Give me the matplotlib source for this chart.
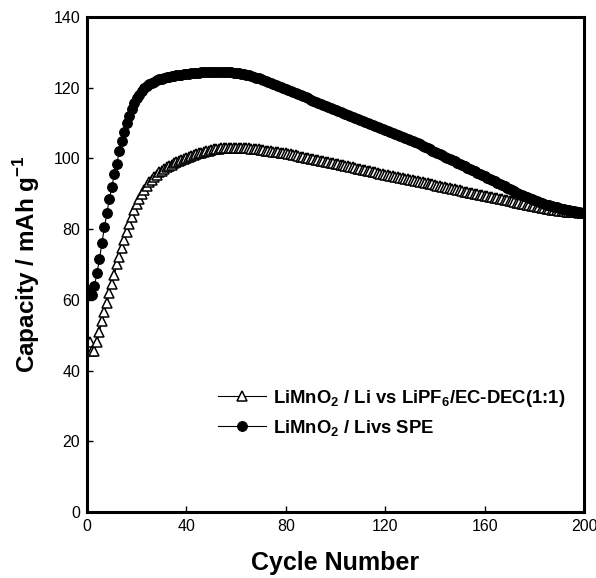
import numpy as np
import matplotlib
matplotlib.use('Agg')
import matplotlib.pyplot as plt

plt.rcParams['font.family'] = ['Liberation Sans', 'DejaVu Sans']
plt.rcParams['mathtext.fontset'] = 'custom'
plt.rcParams['mathtext.rm'] = 'Liberation Sans:bold'
plt.rcParams['mathtext.bf'] = 'Liberation Sans:bold'

# cycle numbers 1..200
cycles = np.arange(1, 201)

# LiMnO2 / Li vs SPE (filled circles)
cap_spe = [
    62.5, 61.5, 64.0, 67.5, 71.5, 76.0, 80.5, 84.5, 88.5, 92.0,
    95.5, 98.5, 102.0, 105.0, 107.5, 110.0, 112.0, 114.0, 115.5, 117.0,
    118.0, 119.0, 119.8, 120.4, 120.9, 121.3, 121.7, 122.0, 122.3, 122.5,
    122.7, 122.9, 123.0, 123.2, 123.3, 123.4, 123.5, 123.6, 123.7, 123.8,
    123.9, 124.0, 124.1, 124.2, 124.2, 124.3, 124.3, 124.4, 124.4, 124.5,
    124.5, 124.5, 124.5, 124.5, 124.4, 124.4, 124.3, 124.3, 124.2, 124.1,
    124.0, 123.9, 123.8, 123.6, 123.4, 123.2, 123.0, 122.8, 122.6, 122.4,
    122.1, 121.8, 121.5, 121.3, 121.0, 120.7, 120.4, 120.1, 119.8, 119.6,
    119.3, 119.0, 118.7, 118.4, 118.1, 117.8, 117.5, 117.2, 116.9, 116.6,
    116.3, 116.0, 115.7, 115.4, 115.1, 114.8, 114.5, 114.2, 113.9, 113.6,
    113.3, 113.0, 112.7, 112.5, 112.2, 111.9, 111.6, 111.4, 111.1, 110.8,
    110.6, 110.3, 110.0, 109.7, 109.5, 109.2, 108.9, 108.6, 108.4, 108.1,
    107.8, 107.5, 107.2, 106.9, 106.6, 106.3, 106.0, 105.7, 105.4, 105.1,
    104.8, 104.5, 104.2, 103.9, 103.6, 103.2, 102.9, 102.6, 102.2, 101.9,
    101.5, 101.2, 100.8, 100.5, 100.1, 99.8, 99.4, 99.1, 98.7, 98.4,
    98.0, 97.7, 97.3, 97.0, 96.6, 96.3, 95.9, 95.6, 95.2, 94.9,
    94.5, 94.2, 93.8, 93.5, 93.1, 92.8, 92.4, 92.1, 91.7, 91.4,
    91.0, 90.7, 90.3, 90.0, 89.7, 89.3, 89.0, 88.7, 88.4, 88.1,
    87.8, 87.6, 87.3, 87.1, 86.9, 86.7, 86.5, 86.3, 86.1, 85.9,
    85.7, 85.6, 85.4, 85.3, 85.1, 85.0, 84.9, 84.7, 84.6, 84.5,
]

# LiMnO2 / Li vs LiPF6/EC-DEC(1:1) (open triangles)
cap_liquid = [
    48.0, 45.5, 45.5, 48.0, 51.0, 54.0, 56.5, 59.0, 62.0, 64.5,
    67.0, 70.0, 72.2, 74.6, 77.0, 79.3, 81.5, 83.5, 85.3, 87.0,
    88.5, 89.8, 91.0, 92.2, 93.2, 94.0, 94.7, 95.4, 96.0, 96.5,
    97.0, 97.4, 97.8, 98.2, 98.6, 98.9, 99.2, 99.5, 99.8, 100.1,
    100.4, 100.7, 100.9, 101.2, 101.4, 101.6, 101.8, 102.0, 102.2, 102.3,
    102.5, 102.6, 102.7, 102.8, 102.9, 102.9, 103.0, 103.0, 103.0, 103.0,
    103.0, 102.9, 102.9, 102.8, 102.8, 102.7, 102.6, 102.5, 102.5, 102.4,
    102.3, 102.2, 102.1, 102.0, 101.9, 101.8, 101.7, 101.6, 101.5, 101.4,
    101.2, 101.1, 101.0, 100.8, 100.7, 100.5, 100.4, 100.2, 100.1, 99.9,
    99.8, 99.6, 99.5, 99.3, 99.2, 99.0, 98.9, 98.7, 98.6, 98.4,
    98.3, 98.1, 98.0, 97.8, 97.7, 97.5, 97.4, 97.2, 97.1, 96.9,
    96.8, 96.6, 96.5, 96.3, 96.2, 96.0, 95.9, 95.7, 95.6, 95.4,
    95.3, 95.1, 95.0, 94.8, 94.7, 94.5, 94.4, 94.2, 94.1, 93.9,
    93.8, 93.6, 93.5, 93.3, 93.2, 93.0, 92.9, 92.7, 92.6, 92.4,
    92.3, 92.1, 92.0, 91.8, 91.7, 91.5, 91.4, 91.2, 91.1, 90.9,
    90.8, 90.6, 90.5, 90.3, 90.2, 90.0, 89.9, 89.7, 89.6, 89.4,
    89.3, 89.1, 89.0, 88.8, 88.7, 88.5, 88.4, 88.2, 88.1, 87.9,
    87.8, 87.6, 87.5, 87.3, 87.2, 87.0, 86.9, 86.7, 86.6, 86.4,
    86.3, 86.2, 86.0, 85.9, 85.8, 85.6, 85.5, 85.4, 85.3, 85.2,
    85.1, 85.0, 84.9, 84.9, 84.8, 84.7, 84.7, 84.6, 84.6, 84.5,
]

label_liquid = r'LiMnO$_\mathbf{2}$ / Li vs LiPF$_\mathbf{6}$/EC-DEC(1:1)'
label_spe = r'LiMnO$_\mathbf{2}$ / Livs SPE'

fig = plt.figure(figsize=(5.96, 5.78), dpi=100)
ax = fig.add_axes([0.146, 0.114, 0.834, 0.857])

ax.plot(cycles, cap_liquid, color='black', lw=0.8, marker='^', ms=7,
        mfc='white', mec='black', mew=1.1, label=label_liquid)
ax.plot(cycles, cap_spe, color='black', lw=0.8, marker='o', ms=7,
        mfc='black', mec='black', mew=0.8, label=label_spe)

ax.set_xlim(0, 200)
ax.set_ylim(0, 140)
ax.set_xticks([0, 40, 80, 120, 160, 200])
ax.set_yticks([0, 20, 40, 60, 80, 100, 120, 140])
ax.tick_params(direction='in', length=4, width=1, labelsize=11.5, pad=5)
for s in ax.spines.values():
    s.set_linewidth(2.2)

ax.set_xlabel('Cycle Number', fontsize=18, fontweight='bold', labelpad=12)
ax.set_ylabel(r'Capacity / mAh g$^\mathbf{-1}$', fontsize=17.5, fontweight='bold', labelpad=8)

leg = ax.legend(loc='upper left', bbox_to_anchor=(0.245, 0.27), frameon=False,
                prop={'weight': 'bold', 'size': 13.3}, handlelength=2.6,
                handletextpad=0.35, labelspacing=0.5, borderpad=0)

fig.savefig('out.png', dpi=100)
